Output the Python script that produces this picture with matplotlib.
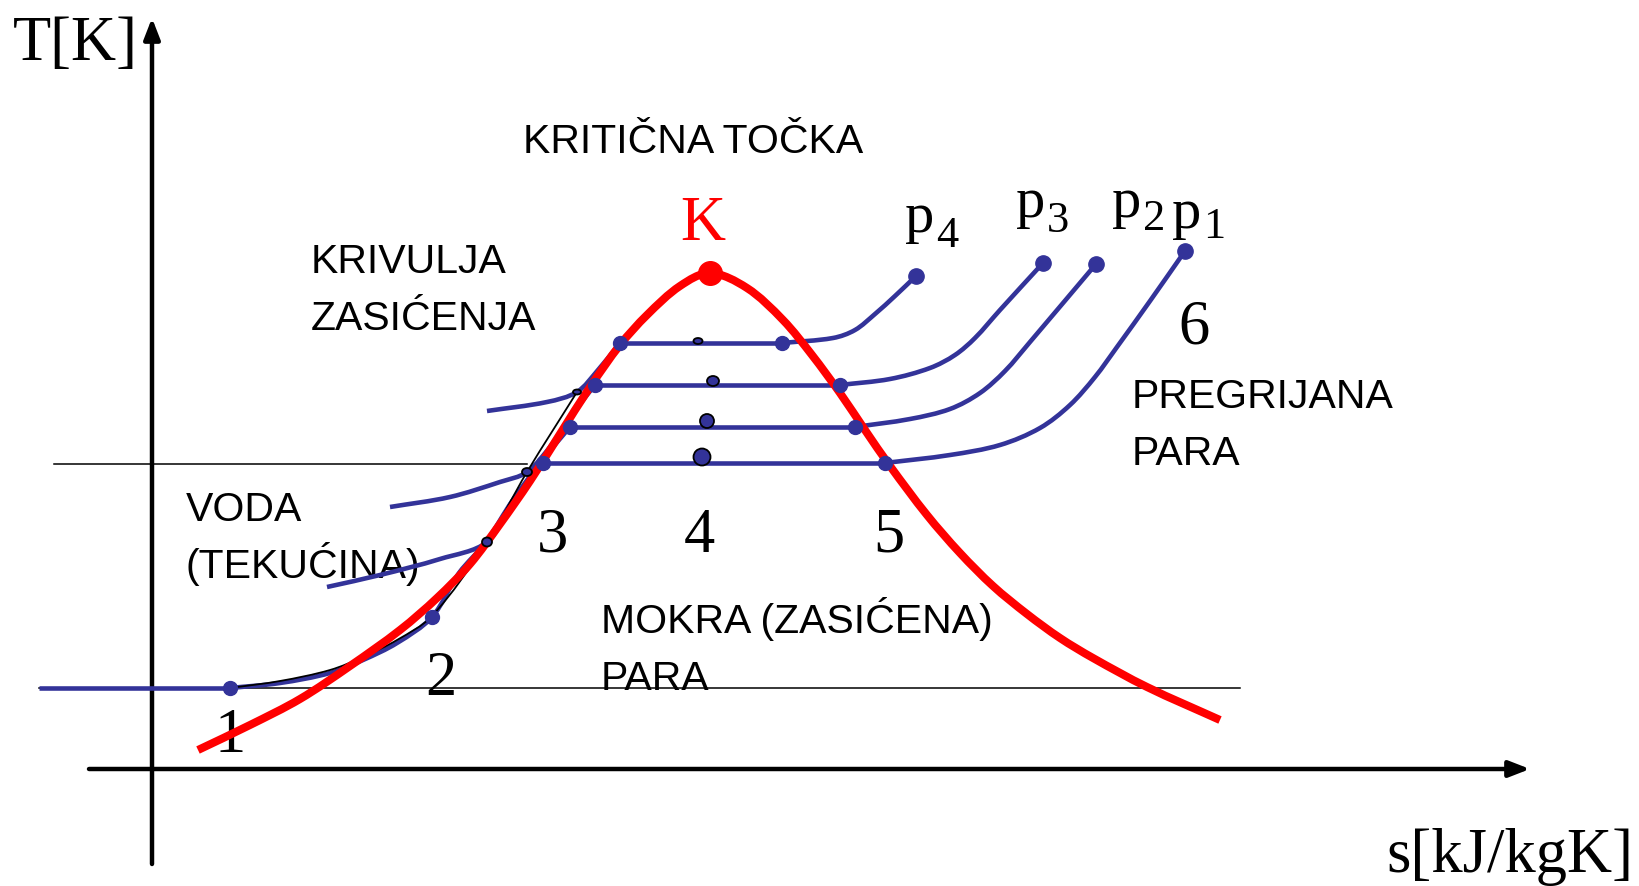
# -*- coding: utf-8 -*-
""" T-s dijagram vode: krivulja zasicenja i izobare p1..p4 """

import numpy as np
import matplotlib
matplotlib.use('Agg')
from matplotlib import pyplot as plt
from matplotlib import font_manager
from matplotlib.path import Path
from matplotlib.patches import PathPatch, Ellipse

# diagram units: s to the right, T upwards (frame is 1640 x 886)
# saturation curve (red)
sat_s = [198, 250, 300, 350, 400, 437, 470, 500, 530, 560, 590, 620, 647, 680, 710,
         747, 783, 812, 840, 865, 890, 927, 960, 993, 1027, 1060, 1093, 1147, 1220]
sat_T = [136, 161, 187, 220, 256, 288, 322, 362, 405, 452, 499, 541, 571, 600, 613,
         598, 566, 531, 493, 456, 420, 371, 333, 300, 272, 248, 228, 199, 166]

# isobars: liquid part, evaporation level, superheated part
p_sym = ['p', 'p', 'p', 'p']
p_sub = ['4', '3', '2', '1']
liq_s = [[487, 547, 577, 598, 620],
         [390, 450, 500, 527, 553, 577, 595],
         [327, 380, 440, 487, 513, 540, 570],
         [230, 280, 330, 363, 397, 432, 459, 486, 513, 543]]
liq_T = [[475, 484, 494, 516, 543],
         [379, 389, 404, 414, 443, 478, 501],
         [299, 311, 327, 344, 386, 423, 459],
         [198, 203, 213, 226, 243, 269, 313, 344, 386, 423]]
evap_T = [543, 501, 459, 423]
evap_s0 = [620, 595, 570, 543]
evap_s1 = [782, 840, 855, 885]
vap_s = [[782, 833, 855, 875, 895, 916],
         [840, 890, 930, 955, 975, 1000, 1043],
         [855, 910, 950, 980, 1005, 1030, 1096],
         [885, 950, 1000, 1040, 1070, 1095, 1117, 1150, 1185]]
vap_T = [[543, 548, 556, 572, 590, 610],
         [501, 507, 518, 531, 548, 576, 623],
         [459, 467, 477, 493, 515, 544, 622],
         [423, 431, 441, 458, 481, 509, 539, 585, 635]]
p1_low_s = [39, 230]          # compressed liquid at p1
p1_low_T = 198

# pump / heating line 1-2-3 (thin black)
pump_s = [230, 280, 330, 363, 397, 432, 487, 527, 577]
pump_T = [198, 205, 216, 229, 246, 270, 344, 414, 494]
circ_s = [487, 527, 577]
circ_T = [344, 414, 494]
circ_w = [10, 10, 8]
circ_h = [9, 8, 5]

# dryness points inside the dome
mid_s = [698, 713, 707, 702]
mid_T = [545, 505, 465, 429]
mid_w = [9, 12, 14, 17]
mid_h = [6, 10, 14, 17]

crit_s, crit_T = 710, 613
state_dots_s = [230, 432]
state_dots_T = [198, 269]

# thin reference lines
ref_T = [422, 198]
ref_s0 = [54, 39]
ref_s1 = [527, 1240]

num_labels = ['1', '2', '3', '4', '5', '6']
num_s = [230, 441, 553, 699, 889, 1194]
num_T = [134, 191, 334, 334, 334, 543]

blue = '#333399'
red = '#ff0000'

names = {f.name for f in font_manager.fontManager.ttflist}
sans = 'Liberation Sans Narrow' if 'Liberation Sans Narrow' in names else 'Liberation Sans'
sans_size = 33 if sans.endswith('Narrow') else 29.5
serif = 'Liberation Serif'


def smooth(xs, ys):
    # chord-length Catmull-Rom through the points, as cubic bezier path
    pts = np.column_stack([xs, ys]).astype(float)
    n = len(pts)
    d = np.hypot(*np.diff(pts, axis=0).T)
    m = np.zeros_like(pts)
    m[0] = (pts[1] - pts[0]) / d[0]
    m[-1] = (pts[-1] - pts[-2]) / d[-1]
    for i in range(1, n - 1):
        m[i] = (pts[i + 1] - pts[i - 1]) / (d[i - 1] + d[i])
    verts = [pts[0]]
    codes = [Path.MOVETO]
    for i in range(n - 1):
        verts += [pts[i] + m[i] * d[i] / 3.0, pts[i + 1] - m[i + 1] * d[i] / 3.0, pts[i + 1]]
        codes += [Path.CURVE4] * 3
    return Path(verts, codes)


def curve(ax, xs, ys, color, lw, z):
    ax.add_patch(PathPatch(smooth(xs, ys), fill=False, edgecolor=color, lw=lw,
                           capstyle='butt', joinstyle='round', zorder=z))


fig = plt.figure(figsize=(16.4, 8.86), dpi=100)
ax = fig.add_axes([0, 0, 1, 1])
ax.set_xlim(0, 1640)
ax.set_ylim(0, 886)
ax.axis('off')

# axes with arrows
arrow = dict(arrowstyle='-|>,head_length=0.9,head_width=0.35', lw=3.2,
             color='black', shrinkA=0, shrinkB=0, mutation_scale=14)
ax.annotate('', xy=(152, 868), xytext=(152, 22), arrowprops=arrow)
ax.annotate('', xy=(1530, 117), xytext=(89, 117), arrowprops=arrow)

for T, s0, s1 in zip(ref_T, ref_s0, ref_s1):
    ax.plot([s0, s1], [T, T], color='black', lw=1.1, zorder=2)

# isobars
ax.plot(p1_low_s, [p1_low_T, p1_low_T], color=blue, lw=3.3, solid_capstyle='butt', zorder=4)
for i in range(4):
    curve(ax, liq_s[i], liq_T[i], blue, 3.3, 4)
    ax.plot([evap_s0[i], evap_s1[i]], [evap_T[i], evap_T[i]], color=blue, lw=3.3,
            solid_capstyle='butt', zorder=4)
    curve(ax, vap_s[i], vap_T[i], blue, 3.3, 4)
    ax.plot(vap_s[i][-1], vap_T[i][-1], 'o', color=blue, ms=11, zorder=6)

curve(ax, pump_s, pump_T, 'black', 1.3, 4.5)

ax.plot(evap_s0 + evap_s1, evap_T + evap_T, 'o', color=blue, ms=10, zorder=6)
ax.plot(state_dots_s, state_dots_T, 'o', color=blue, ms=10, zorder=6)

for s, T, w, h in zip(circ_s, circ_T, circ_w, circ_h):
    ax.add_patch(Ellipse((s, T), w, h, facecolor=blue, edgecolor='black', lw=1.3, zorder=7))
for s, T, w, h in zip(mid_s, mid_T, mid_w, mid_h):
    ax.add_patch(Ellipse((s, T), w, h, facecolor=blue, edgecolor='black', lw=1.3, zorder=7))

# saturation curve and critical point
curve(ax, sat_s, sat_T, red, 5.8, 5)
ax.plot(crit_s, crit_T, 'o', color=red, ms=17, zorder=8)

# texts
ax.text(13, 826, 'T[K]', fontsize=45, family=serif, ha='left', va='baseline')
ax.text(1386, 14, 's[kJ/kgK]', fontsize=45, family=serif, ha='left', va='baseline')
ax.text(703, 646, 'K', fontsize=45, family=serif, color=red, ha='center', va='baseline')
for lab, s, T in zip(num_labels, num_s, num_T):
    ax.text(s, T, lab, fontsize=45, family=serif, ha='center', va='baseline')

# pressure labels p with subscript
p_lab_s = [905, 1016, 1112, 1172]
p_lab_T = [654, 669, 669, 658]
sub_T = [639, 654, 656, 648]
for sym, sub, s, T, st in zip(p_sym, p_sub, p_lab_s, p_lab_T, sub_T):
    ax.text(s, T, sym, fontsize=42, family=serif, ha='left', va='baseline')
    ax.text(s + 31, st, sub, fontsize=32, family=serif, ha='left', va='baseline')

sans_txt = [('KRITIČNA TOČKA', 523, 733),
            ('KRIVULJA', 311, 613), ('ZASIĆENJA', 311, 556),
            ('VODA', 186, 365), ('(TEKUĆINA)', 186, 308),
            ('MOKRA (ZASIĆENA)', 601, 253), ('PARA', 601, 196),
            ('PREGRIJANA', 1132, 478), ('PARA', 1132, 421)]
for txt, s, T in sans_txt:
    ax.text(s, T, txt, fontsize=sans_size, family=sans, ha='left', va='baseline')

plt.savefig('out.png', dpi=100)
plt.close('all')
